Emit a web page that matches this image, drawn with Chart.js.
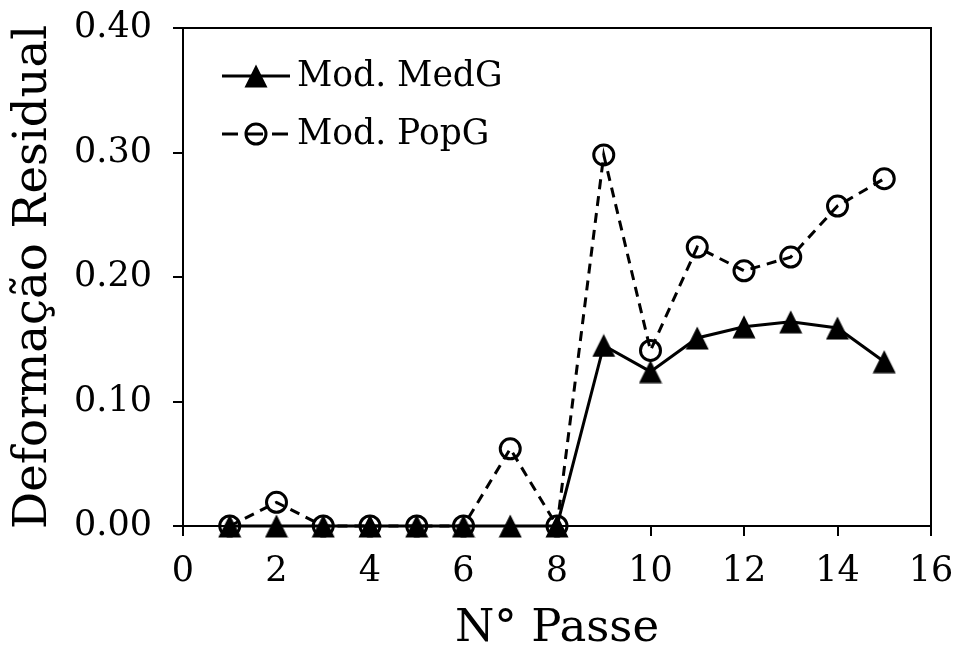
<!DOCTYPE html>
<html>
<head>
<meta charset="utf-8">
<script src="https://cdn.jsdelivr.net/npm/chart.js@4"></script>
<style>
  html, body { margin: 0; padding: 0; background: #fff; }
  #wrap { width: 956px; height: 646px; }
</style>
</head>
<body>
<div id="wrap"><canvas id="c" width="956" height="646"></canvas></div>
<script>
const passes = [1, 2, 3, 4, 5, 6, 7, 8, 9, 10, 11, 12, 13, 14, 15];
const medG = [0, 0, 0, 0, 0, 0, 0, 0, 0.145, 0.124, 0.151, 0.160, 0.164, 0.159, 0.132];
const popG = [0, 0.019, 0, 0, 0, 0, 0.062, 0, 0.298, 0.141, 0.224, 0.205, 0.216, 0.257, 0.279];
const seriesNames = ['Mod. MedG', 'Mod. PopG'];
const xTitle = 'N° Passe';
const yTitle = 'Deformação Residual';

const FONT = "'DejaVu Serif', serif";

function makeTriangle() {
  const cv = document.createElement('canvas');
  cv.width = 24; cv.height = 24;
  const g = cv.getContext('2d');
  g.fillStyle = '#000';
  g.beginPath();
  g.moveTo(12, 0.5);
  g.lineTo(23.5, 23.5);
  g.lineTo(0.5, 23.5);
  g.closePath();
  g.fill();
  return cv;
}
const tri = makeTriangle();

function zeroPad(s) {
  s.paddingTop = 0; s.paddingBottom = 0; s.paddingLeft = 0; s.paddingRight = 0;
}

const framePlugin = {
  id: 'frame',
  beforeDatasetsDraw(chart) {
    const {ctx, chartArea: a} = chart;
    ctx.save();
    ctx.strokeStyle = '#000';
    ctx.lineWidth = 2;
    ctx.strokeRect(a.left, a.top, a.right - a.left, a.bottom - a.top);
    ctx.restore();
  }
};

const legendPlugin = {
  id: 'inlineLegend',
  afterDatasetsDraw(chart) {
    const {ctx, chartArea: a} = chart;
    const x0 = a.left + 39, x1 = a.left + 107, xm = a.left + 73;
    const rows = [a.top + 48, a.top + 106];
    ctx.save();
    chart.data.datasets.forEach((ds, i) => {
      const y = rows[i];
      ctx.strokeStyle = '#000';
      ctx.lineWidth = 3;
      ctx.setLineDash(i === 1 ? [16, 9] : []);
      ctx.beginPath();
      ctx.moveTo(x0, y);
      ctx.lineTo(x1, y);
      ctx.stroke();
      ctx.setLineDash([]);
      if (i === 0) {
        ctx.drawImage(tri, xm - 12, y - 12);
      } else {
        ctx.beginPath();
        ctx.arc(xm, y, 10, 0, Math.PI * 2);
        ctx.stroke();
      }
      ctx.fillStyle = '#000';
      ctx.font = '34.5px ' + FONT;
      ctx.textBaseline = 'middle';
      ctx.textAlign = 'left';
      ctx.fillText(ds.label, x1 + 7, y + 1);
    });
    ctx.restore();
  }
};

new Chart(document.getElementById('c'), {
  type: 'line',
  data: {
    datasets: [
      {
        label: seriesNames[0],
        data: passes.map((p, i) => ({x: p, y: medG[i]})),
        borderColor: '#000',
        borderWidth: 3,
        pointStyle: tri,
        pointRadius: 12,
        pointBackgroundColor: '#000',
        pointBorderColor: '#000',
        tension: 0,
        clip: false
      },
      {
        label: seriesNames[1],
        data: passes.map((p, i) => ({x: p, y: popG[i]})),
        borderColor: '#000',
        borderWidth: 3,
        borderDash: [10, 7],
        pointStyle: 'circle',
        pointRadius: 10,
        pointBorderWidth: 3,
        pointBackgroundColor: 'rgba(0,0,0,0)',
        pointBorderColor: '#000',
        tension: 0,
        clip: false
      }
    ]
  },
  options: {
    responsive: false,
    animation: false,
    devicePixelRatio: 1,
    layout: { padding: { top: 28, right: 25, left: 0, bottom: 0 } },
    plugins: { legend: { display: false }, tooltip: { enabled: false } },
    scales: {
      x: {
        type: 'linear',
        min: 0, max: 16,
        ticks: { stepSize: 2, color: '#000', font: { family: FONT, size: 35 }, padding: 15, maxRotation: 0 },
        grid: { drawOnChartArea: false, drawTicks: true, tickLength: 10, color: '#000', lineWidth: 2 },
        border: { display: true, color: '#000', width: 2 },
        title: { display: true, text: xTitle, color: '#000', font: { family: FONT, size: 45, lineHeight: 1.2 }, padding: { top: 0, bottom: -10 } },
        afterFit(s) { s.height = 120; zeroPad(s); }
      },
      y: {
        min: 0, max: 0.4,
        ticks: { stepSize: 0.1, color: '#000', font: { family: FONT, size: 35 }, padding: 21, callback: v => v.toFixed(2) },
        grid: { drawOnChartArea: false, drawTicks: true, tickLength: 10, color: '#000', lineWidth: 2 },
        border: { display: true, color: '#000', width: 2 },
        title: { display: true, text: yTitle, color: '#000', font: { family: FONT, size: 46.5, lineHeight: 1.2 }, padding: { top: 6, bottom: 0 } },
        afterFit(s) { s.width = 183; zeroPad(s); }
      }
    }
  },
  plugins: [framePlugin, legendPlugin]
});
</script>
</body>
</html>
